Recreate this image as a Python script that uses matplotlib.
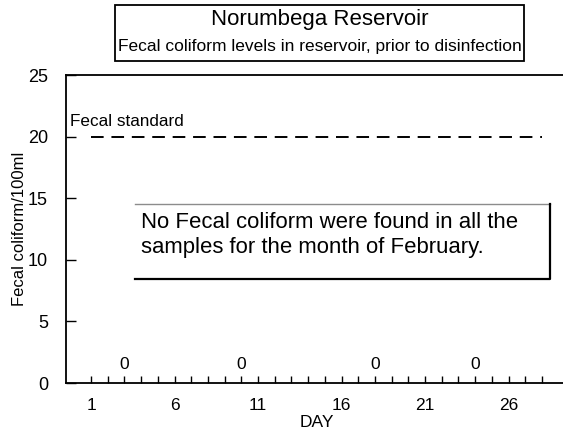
import matplotlib.pyplot as plt
from matplotlib.patches import Rectangle
from matplotlib.lines import Line2D

plt.rcParams['font.family'] = ['Liberation Sans', 'DejaVu Sans']

# datele
zile = list(range(1, 29))
zile_etichete = [1, 6, 11, 16, 21, 26]
zile_probe = [3, 10, 18, 24]
valori_probe = [0, 0, 0, 0]
standard_zile = [1, 28]
standard_valoare = 20
y_ticks = [0, 5, 10, 15, 20, 25]

fig = plt.figure(figsize=(5.63, 4.36), dpi=100)
ax = fig.add_axes([66 / 563, 1 - 383 / 436, 1 - 66 / 563 + 0.01, (383 - 75) / 436])

ax.plot(standard_zile, [standard_valoare] * 2, color='black', lw=1.4,
        linestyle=(0, (6.5, 4)))
ax.text(-0.25, standard_valoare + 0.6, 'Fecal standard', fontsize=12.3, va='bottom', ha='left')

ax.scatter(zile_probe, valori_probe, s=0, clip_on=False)
for z, v in zip(zile_probe, valori_probe):
    ax.annotate(str(v), (z, v), xytext=(0, 8), textcoords='offset points',
                ha='center', va='bottom', fontsize=12.5)

ax.set_xlim(-0.5, 29.6)
ax.set_ylim(0, 25)
ax.set_xticks(zile)
ax.set_xticklabels([str(z) if z in zile_etichete else '' for z in zile], fontsize=12.5)
ax.set_yticks(y_ticks)
ax.set_yticklabels([str(v) for v in y_ticks], fontsize=13)
ax.tick_params(axis='x', direction='in', length=5, width=1, pad=11)
ax.tick_params(axis='y', direction='in', length=7, width=1, pad=13)
ax.spines['right'].set_visible(False)
for s in ['left', 'bottom', 'top']:
    ax.spines[s].set_linewidth(1.3)
ax.set_xlabel('DAY', fontsize=12.5, labelpad=1)
ax.set_ylabel('Fecal coliform/100ml', fontsize=12)
ax.yaxis.set_label_coords(-0.078, 0.5)

# caseta cu nota
ax.text(141 / 563, 1 - 235 / 436,
        'No Fecal coliform were found in all the\nsamples for the month of February.',
        transform=fig.transFigure, fontsize=15.9, ha='left', va='center', linespacing=1.2)
fig.add_artist(Line2D([135 / 563, 550 / 563], [1 - 204 / 436] * 2, color='0.55', lw=1,
                      transform=fig.transFigure))
fig.add_artist(Line2D([135 / 563, 550 / 563, 550 / 563], [1 - 279 / 436, 1 - 279 / 436, 1 - 204 / 436],
                      color='black', lw=1.6, transform=fig.transFigure))

# caseta titlului
fig.add_artist(Rectangle((115 / 563, 1 - 61 / 436), (524 - 115) / 563, 56 / 436,
                         transform=fig.transFigure, fill=False, edgecolor='black', lw=1.3))
fig.text(320 / 563, 1 - 20 / 436, 'Norumbega Reservoir', fontsize=16, ha='center', va='center')
fig.text(320 / 563, 1 - 46 / 436, 'Fecal coliform levels in reservoir, prior to disinfection',
         fontsize=12.5, ha='center', va='center')

fig.savefig('out.png', dpi=100)
